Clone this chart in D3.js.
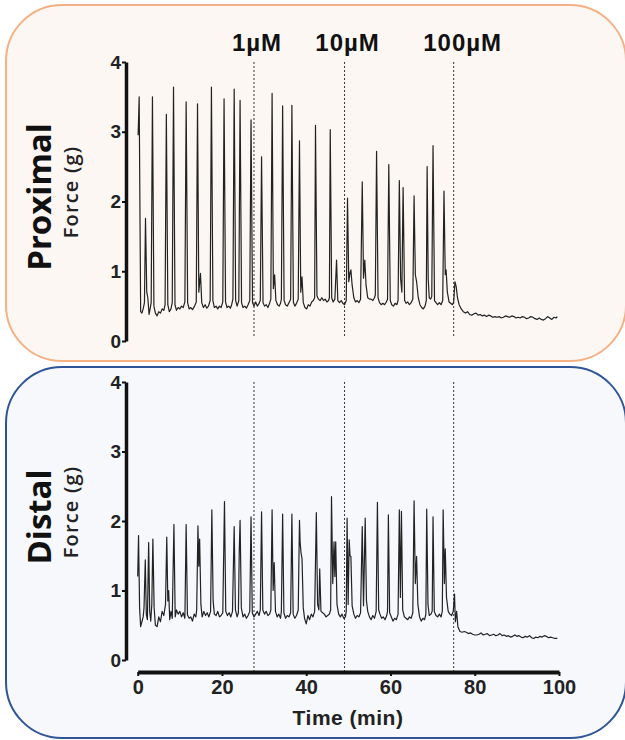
<!DOCTYPE html>
<html>
<head>
<meta charset="utf-8">
<script src="https://cdn.jsdelivr.net/npm/d3@7"></script>
<style>
  body { margin: 0; background: #fff; }
  .tick text { font-family: "Liberation Sans", Arial, sans-serif; font-weight: bold; fill: #222; }
</style>
</head>
<body>
<svg id="chart"></svg>
<script>
const width = 625;
const height = 740;

// drug additions (min) and their labels
const doseTimes = [27.6, 49.1, 75.0];
const doseLabels = ["1\u00b5M", "10\u00b5M", "100\u00b5M"];
const panelNames = ["Proximal", "Distal"];
const yTicks = [0, 1, 2, 3, 4];
const xTicks = [0, 20, 40, 60, 80, 100];

// [time (min), force (g)]
const proximalTrace = [
  [0.1,2.95],[0.35,3.50],[0.7,0.42],[1.0,0.40],[1.3,0.46],[1.6,0.55],[1.85,1.76],[2.15,0.70],[2.4,0.62],[2.7,0.38],[3.0,0.48],[3.2,0.55],
  [3.5,3.50],[3.85,0.50],[4.2,0.40],[4.6,0.36],[5.0,0.42],[5.4,0.40],[5.8,0.46],[6.2,0.44],[6.5,0.52],[6.8,3.25],[7.15,0.52],[7.5,0.42],
  [7.9,0.46],[8.2,0.55],[8.5,3.64],[8.85,0.52],[9.2,0.44],[9.6,0.48],[10.0,0.46],[10.4,0.50],[10.8,0.48],[11.2,0.56],[11.5,3.43],[11.85,0.55],
  [12.2,0.46],[12.6,0.48],[13.0,0.45],[13.5,0.50],[13.9,0.56],[14.2,3.40],[14.5,0.70],[14.9,0.97],[15.2,0.55],[15.6,0.48],[16.0,0.52],[16.4,0.47],
  [16.8,0.50],[17.2,0.58],[17.5,3.64],[17.85,0.58],[18.2,0.48],[18.6,0.50],[19.0,0.46],[19.4,0.50],[19.8,0.48],[20.2,0.56],[20.5,3.47],[20.85,0.56],
  [21.2,0.48],[21.6,0.50],[22.0,0.47],[22.3,0.52],[22.6,0.60],[22.9,3.61],[23.25,0.58],[23.6,0.50],[24.0,0.58],[24.3,3.45],[24.65,0.55],[25.0,0.48],
  [25.4,0.50],[25.8,0.47],[26.2,0.52],[26.6,0.58],[26.9,3.17],[27.25,0.55],[27.6,0.50],[28.0,0.56],[28.4,0.50],[28.8,0.54],[29.1,0.58],[29.4,2.64],
  [29.75,0.55],[30.1,0.50],[30.5,0.52],[30.9,0.48],[31.3,0.54],[31.6,0.60],[31.9,3.55],[32.2,0.75],[32.5,0.95],[32.8,0.58],[33.2,0.52],[33.6,0.50],
  [33.9,0.54],[34.1,0.60],[34.4,3.37],[34.75,0.58],[35.1,0.52],[35.5,0.50],[35.9,0.55],[36.3,0.60],[36.6,3.38],[36.95,0.56],[37.3,0.50],[37.7,0.54],
  [38.1,0.60],[38.4,2.87],[38.7,0.70],[39.0,0.92],[39.3,0.55],[39.7,0.48],[40.1,0.46],[40.5,0.52],[40.9,0.50],[41.3,0.56],[41.7,0.58],[42.0,0.62],
  [42.2,3.09],[42.55,0.65],[42.9,0.60],[43.3,0.58],[43.7,0.62],[44.1,0.58],[44.5,0.60],[44.9,0.56],[45.3,0.58],[45.5,0.62],[45.7,3.03],[46.05,0.62],
  [46.4,0.56],[46.8,0.60],[47.2,1.16],[47.5,0.58],[47.9,0.55],[48.3,0.58],[48.7,0.54],[49.1,0.52],[49.5,0.58],[49.8,2.05],[50.1,0.85],[50.4,0.98],
  [50.6,1.02],[50.9,0.80],[51.3,0.62],[51.7,0.56],[52.1,0.58],[52.5,0.55],[52.9,0.60],[53.3,2.28],[53.6,0.90],[53.9,1.16],[54.2,0.80],[54.6,0.62],
  [55.0,0.60],[55.4,0.60],[55.8,0.58],[56.2,0.62],[56.4,0.66],[56.7,2.72],[57.05,0.62],[57.4,0.55],[57.8,0.52],[58.2,0.54],[58.6,0.52],[59.0,0.56],
  [59.3,0.60],[59.6,2.53],[59.95,0.58],[60.3,0.52],[60.7,0.50],[61.1,0.54],[61.5,0.52],[61.8,0.58],[62.1,2.30],[62.4,0.90],[62.7,0.70],[63.0,2.20],
  [63.35,0.58],[63.7,0.54],[64.1,0.56],[64.5,0.52],[64.9,0.55],[65.3,0.60],[65.6,2.08],[65.9,0.95],[66.2,0.85],[66.6,0.62],[67.0,0.52],[67.4,0.48],
  [67.8,0.46],[68.2,0.50],[68.5,0.58],[68.7,2.50],[68.95,0.90],[69.2,0.62],[69.5,0.60],[69.8,0.64],[70.1,2.80],[70.45,0.58],[70.8,0.55],[71.2,0.52],
  [71.6,0.55],[72.0,0.52],[72.4,0.58],[72.7,2.15],[73.0,0.95],[73.2,1.02],[73.5,0.70],[73.9,0.56],[74.3,0.54],[74.7,0.52],[75.0,0.56],[75.3,0.85],
  [75.6,0.78],[75.9,0.62],[76.3,0.52],[76.8,0.46],[77.3,0.42],[77.8,0.40],[78.3,0.42],[78.8,0.38],[79.3,0.37],[79.8,0.39],[80.3,0.40],[80.8,0.37],
  [81.3,0.38],[81.8,0.36],[82.3,0.37],[82.8,0.35],[83.3,0.37],[83.8,0.36],[84.3,0.34],[84.8,0.35],[85.3,0.34],[85.8,0.35],[86.3,0.33],[86.8,0.34],
  [87.3,0.36],[87.8,0.35],[88.3,0.34],[88.8,0.36],[89.3,0.35],[89.8,0.33],[90.3,0.34],[90.8,0.33],[91.3,0.35],[91.8,0.34],[92.3,0.32],[92.8,0.33],
  [93.3,0.35],[93.8,0.34],[94.3,0.32],[94.8,0.31],[95.3,0.33],[95.8,0.31],[96.3,0.30],[96.8,0.32],[97.3,0.35],[97.8,0.33],[98.3,0.31],[98.8,0.34],
  [99.3,0.33],[99.6,0.35]
];

const distalTrace = [
  [0.0,1.20],[0.2,1.79],[0.45,0.75],[0.7,0.48],[1.0,0.55],[1.3,0.62],[1.5,0.75],[1.8,1.44],[2.05,0.65],[2.3,0.58],[2.6,1.69],[2.85,0.70],
  [3.1,0.56],[3.35,0.80],[3.6,1.74],[3.9,0.75],[4.2,0.50],[4.6,0.48],[5.0,0.62],[5.4,0.55],[5.8,0.70],[6.2,0.64],[6.6,0.80],[6.9,1.77],
  [7.15,0.85],[7.35,1.00],[7.6,0.58],[7.9,0.70],[8.2,0.60],[8.6,1.95],[8.9,0.62],[9.2,0.72],[9.6,0.66],[10.0,0.70],[10.4,0.62],[10.8,0.68],
  [11.2,0.60],[11.5,1.95],[11.8,0.65],[12.2,0.60],[12.6,0.62],[13.0,0.56],[13.4,0.66],[13.8,0.62],[14.0,0.72],[14.3,1.93],[14.5,1.35],[14.7,1.74],
  [15.0,0.80],[15.3,0.62],[15.7,0.70],[16.1,0.64],[16.5,0.68],[16.9,0.62],[17.3,0.70],[17.6,2.16],[17.9,0.85],[18.2,0.66],[18.6,0.64],[19.0,0.70],
  [19.4,0.62],[19.8,0.64],[20.2,0.68],[20.6,2.28],[20.9,0.70],[21.3,0.64],[21.7,0.68],[22.1,0.62],[22.5,0.70],[22.9,1.92],[23.2,0.72],[23.6,0.62],
  [23.9,0.68],[24.1,1.55],[24.3,2.01],[24.6,0.75],[25.0,0.62],[25.4,0.66],[25.8,0.60],[26.2,0.64],[26.6,0.70],[26.9,2.06],[27.2,0.68],[27.6,0.62],
  [28.0,0.66],[28.4,0.70],[28.8,0.64],[29.1,0.72],[29.4,2.13],[29.7,0.72],[30.1,0.66],[30.5,0.70],[30.9,0.64],[31.3,0.66],[31.6,0.72],[31.9,2.16],
  [32.15,1.00],[32.4,1.40],[32.7,0.70],[33.1,0.62],[33.5,0.66],[33.9,0.60],[34.1,0.70],[34.4,2.10],[34.7,0.68],[35.1,0.60],[35.5,0.64],[35.9,0.62],
  [36.3,0.68],[36.6,2.10],[36.9,0.66],[37.3,0.60],[37.7,0.64],[38.1,0.72],[38.4,2.01],[38.55,1.70],[38.75,1.55],[39.0,1.46],[39.3,0.75],[39.6,0.60],
  [40.0,0.52],[40.4,0.64],[40.8,0.58],[41.2,0.66],[41.6,0.62],[42.0,0.70],[42.4,2.12],[42.7,0.80],[43.0,0.72],[43.2,1.31],[43.5,0.70],[43.9,0.68],
  [44.3,0.66],[44.7,0.62],[45.1,0.64],[45.5,0.66],[45.8,0.72],[46.0,2.35],[46.3,1.10],[46.6,1.70],[46.8,1.20],[47.0,1.70],[47.3,0.80],[47.7,0.66],
  [48.1,0.62],[48.5,0.66],[48.9,0.60],[49.3,0.62],[49.5,0.70],[49.7,2.04],[49.95,0.80],[50.2,1.73],[50.4,1.50],[50.6,1.49],[50.9,0.78],[51.3,0.66],
  [51.7,0.60],[52.1,0.64],[52.5,0.62],[52.9,0.68],[53.3,1.92],[53.6,0.78],[54.0,2.04],[54.3,0.85],[54.6,0.70],[55.0,0.62],[55.4,0.58],[55.8,0.64],
  [56.2,0.60],[56.6,0.70],[56.9,2.27],[57.2,0.72],[57.5,0.66],[57.9,0.60],[58.3,0.62],[58.7,0.58],[59.1,0.64],[59.3,0.70],[59.5,2.09],[59.8,0.68],
  [60.2,0.62],[60.6,0.56],[61.0,0.60],[61.4,0.58],[61.8,0.66],[62.1,2.16],[62.35,0.90],[62.6,2.14],[62.9,0.72],[63.3,0.62],[63.7,0.60],[64.1,0.58],
  [64.5,0.62],[64.9,0.60],[65.3,0.68],[65.6,2.29],[65.9,1.10],[66.2,1.49],[66.5,0.80],[66.9,0.62],[67.3,0.56],[67.7,0.60],[68.1,0.58],[68.4,0.66],
  [68.6,2.17],[68.9,0.80],[69.2,0.64],[69.6,0.66],[69.9,0.70],[70.1,2.06],[70.4,0.70],[70.8,0.64],[71.2,0.62],[71.6,0.66],[72.0,0.62],[72.3,0.70],
  [72.5,2.16],[72.8,1.10],[73.0,1.60],[73.3,0.90],[73.7,0.70],[74.1,0.66],[74.5,0.64],[74.9,0.70],[75.2,0.95],[75.4,0.55],[75.7,0.70],[76.0,0.48],
  [76.5,0.41],[77.0,0.40],[77.5,0.41],[78.0,0.40],[78.5,0.38],[79.0,0.39],[79.5,0.37],[80.0,0.36],[80.5,0.36],[81.0,0.37],[81.5,0.39],[82.0,0.36],
  [82.5,0.37],[83.0,0.38],[83.5,0.35],[84.0,0.36],[84.5,0.37],[85.0,0.35],[85.5,0.36],[86.0,0.38],[86.5,0.35],[87.0,0.36],[87.5,0.34],[88.0,0.35],
  [88.5,0.33],[89.0,0.34],[89.5,0.36],[90.0,0.34],[90.5,0.35],[91.0,0.33],[91.5,0.32],[92.0,0.34],[92.5,0.33],[93.0,0.35],[93.5,0.32],[94.0,0.31],
  [94.5,0.33],[95.0,0.32],[95.5,0.34],[96.0,0.33],[96.5,0.35],[97.0,0.34],[97.5,0.32],[98.0,0.33],[98.5,0.32],[99.0,0.31],[99.6,0.31]
];

const svg = d3.select("#chart")
    .attr("width", width)
    .attr("height", height);

const x = d3.scaleLinear().domain([0, 100]).range([137.7, 559]);

const panels = [
    { name: panelNames[0], trace: proximalTrace, box: [6, 5, 620, 356], fill: "#fdf7f4", stroke: "#f5b183",
      y: d3.scaleLinear().domain([0, 4]).range([341, 62]), dashTop: 62, dashBottom: 337, labelY: 197, forceY: 192 },
    { name: panelNames[1], trace: distalTrace, box: [6, 367, 620, 371], fill: "#f6f8fc", stroke: "#2f5597",
      y: d3.scaleLinear().domain([0, 4]).range([660, 382]), dashTop: 382, dashBottom: 671, labelY: 517, forceY: 512 }
];

panels.forEach(function(p) {
    const g = svg.append("g");

    g.append("rect")
        .attr("x", p.box[0])
        .attr("y", p.box[1])
        .attr("width", p.box[2])
        .attr("height", p.box[3])
        .attr("rx", 56)
        .attr("fill", p.fill)
        .attr("stroke", p.stroke)
        .attr("stroke-width", 2);

    // dose markers
    g.selectAll(".dose")
        .data(doseTimes)
        .join("line")
            .attr("x1", d => x(d))
            .attr("x2", d => x(d))
            .attr("y1", p.dashTop)
            .attr("y2", p.dashBottom)
            .attr("stroke", "#333")
            .attr("stroke-width", 1)
            .attr("stroke-dasharray", "2,2");

    const line = d3.line()
        .x(d => x(d[0]))
        .y(d => p.y(d[1]));

    g.append("path")
        .datum(p.trace)
        .attr("d", line)
        .attr("fill", "none")
        .attr("stroke", "#222")
        .attr("stroke-width", 1.2)
        .attr("stroke-linejoin", "round");

    const yAxis = g.append("g")
        .attr("transform", "translate(126,0)")
        .call(d3.axisLeft(p.y).tickValues(yTicks).tickSize(4).tickSizeOuter(0).tickPadding(1).tickFormat(d3.format("d")));
    yAxis.select(".domain").attr("stroke", "#111").attr("stroke-width", 3.5);
    yAxis.selectAll(".tick line").attr("stroke", "#111").attr("stroke-width", 2);
    yAxis.selectAll(".tick text").attr("font-size", 19);

    g.append("text")
        .attr("transform", "translate(51," + p.labelY + ") rotate(-90)")
        .attr("text-anchor", "middle")
        .attr("font-family", "'Open Sans', sans-serif")
        .attr("font-weight", "bold")
        .attr("font-size", 33)
        .attr("fill", "#111")
        .text(p.name);

    g.append("text")
        .attr("transform", "translate(78," + p.forceY + ") rotate(-90)")
        .attr("text-anchor", "middle")
        .attr("font-family", "'Open Sans', sans-serif")
        .attr("font-weight", 600)
        .attr("font-size", 20)
        .attr("letter-spacing", 1.2)
        .attr("fill", "#222")
        .text("Force (g)");
});

// concentration labels
svg.selectAll(".dose-label")
    .data(doseTimes)
    .join("text")
        .attr("x", (d, i) => x(d) + [3, 3, 9][i])
        .attr("y", 51)
        .attr("text-anchor", "middle")
        .attr("font-family", "'Liberation Sans', Arial, sans-serif")
        .attr("font-weight", "bold")
        .attr("font-size", 24)
        .attr("letter-spacing", 1)
        .attr("fill", "#111")
        .text((d, i) => doseLabels[i]);

const xAxis = svg.append("g")
    .attr("transform", "translate(0,672)")
    .call(d3.axisBottom(x).tickValues(xTicks).tickSize(4).tickSizeOuter(0).tickPadding(4));
xAxis.select(".domain").attr("stroke", "#111").attr("stroke-width", 4);
xAxis.selectAll(".tick line").attr("stroke", "#111").attr("stroke-width", 2);
xAxis.selectAll(".tick text").attr("font-size", 20);

svg.append("text")
    .attr("x", 348)
    .attr("y", 725)
    .attr("text-anchor", "middle")
    .attr("font-family", "'Liberation Sans', Arial, sans-serif")
    .attr("font-weight", "bold")
    .attr("font-size", 21)
    .attr("letter-spacing", 0.5)
    .attr("fill", "#222")
    .text("Time (min)");
</script>
</body>
</html>
